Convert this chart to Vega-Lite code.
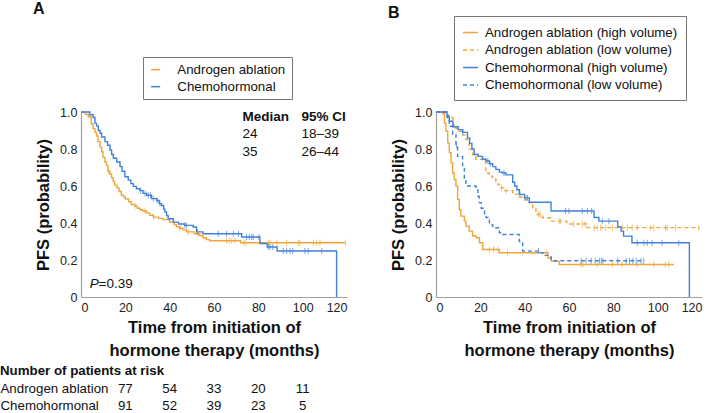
{
  "$schema": "https://vega.github.io/schema/vega-lite/v6.json",
  "background": "white",
  "padding": {"left": 0, "top": 0, "right": 0, "bottom": 0},
  "config": {
    "font": "Liberation Sans",
    "view": {"stroke": null},
    "axis": {"grid": false, "domainColor": "#a0a0a0", "domainWidth": 1.2, "ticks": false, "labelColor": "#222", "labelFontSize": 12.5, "labelPadding": 4, "titleFontSize": 16.5, "titleFontWeight": "bold", "titleColor": "#111"},
    "title": {"fontSize": 16, "fontWeight": "bold", "anchor": "start", "frame": "group", "color": "#111"},
    "text": {"font": "Liberation Sans", "color": "#111"}
  },
  "datasets": {
    "curvesA": [
      {"group": "Androgen ablation", "t": 0, "s": 1}, {"group": "Androgen ablation", "t": 2, "s": 0.987}, {"group": "Androgen ablation", "t": 3.3, "s": 0.974}, {"group": "Androgen ablation", "t": 4.6, "s": 0.935}, {"group": "Androgen ablation", "t": 5.5, "s": 0.91}, {"group": "Androgen ablation", "t": 6.3, "s": 0.89}, {"group": "Androgen ablation", "t": 7, "s": 0.87}, {"group": "Androgen ablation", "t": 7.7, "s": 0.84}, {"group": "Androgen ablation", "t": 8.6, "s": 0.81}, {"group": "Androgen ablation", "t": 9.3, "s": 0.785}, {"group": "Androgen ablation", "t": 9.9, "s": 0.755}, {"group": "Androgen ablation", "t": 10.8, "s": 0.73}, {"group": "Androgen ablation", "t": 11.5, "s": 0.71}, {"group": "Androgen ablation", "t": 12.2, "s": 0.68}, {"group": "Androgen ablation", "t": 13, "s": 0.665}, {"group": "Androgen ablation", "t": 13.8, "s": 0.645}, {"group": "Androgen ablation", "t": 14.5, "s": 0.625}, {"group": "Androgen ablation", "t": 15.2, "s": 0.605}, {"group": "Androgen ablation", "t": 16.2, "s": 0.59}, {"group": "Androgen ablation", "t": 17.2, "s": 0.57}, {"group": "Androgen ablation", "t": 18.2, "s": 0.55}, {"group": "Androgen ablation", "t": 19.2, "s": 0.54}, {"group": "Androgen ablation", "t": 20, "s": 0.53}, {"group": "Androgen ablation", "t": 21.5, "s": 0.515}, {"group": "Androgen ablation", "t": 22.7, "s": 0.5}, {"group": "Androgen ablation", "t": 24.3, "s": 0.49}, {"group": "Androgen ablation", "t": 25.5, "s": 0.48}, {"group": "Androgen ablation", "t": 26.6, "s": 0.472}, {"group": "Androgen ablation", "t": 27.8, "s": 0.465}, {"group": "Androgen ablation", "t": 29.6, "s": 0.455}, {"group": "Androgen ablation", "t": 31, "s": 0.442}, {"group": "Androgen ablation", "t": 32.6, "s": 0.432}, {"group": "Androgen ablation", "t": 35, "s": 0.425}, {"group": "Androgen ablation", "t": 37, "s": 0.418}, {"group": "Androgen ablation", "t": 40, "s": 0.405}, {"group": "Androgen ablation", "t": 42, "s": 0.392}, {"group": "Androgen ablation", "t": 43, "s": 0.38}, {"group": "Androgen ablation", "t": 44.5, "s": 0.372}, {"group": "Androgen ablation", "t": 46, "s": 0.363}, {"group": "Androgen ablation", "t": 47.6, "s": 0.352}, {"group": "Androgen ablation", "t": 51, "s": 0.342}, {"group": "Androgen ablation", "t": 53.6, "s": 0.332}, {"group": "Androgen ablation", "t": 55, "s": 0.32}, {"group": "Androgen ablation", "t": 56.6, "s": 0.31}, {"group": "Androgen ablation", "t": 58, "s": 0.304}, {"group": "Androgen ablation", "t": 72, "s": 0.293}, {"group": "Androgen ablation", "t": 119, "s": 0.293},
      {"group": "Chemohormonal", "t": 0, "s": 1}, {"group": "Chemohormonal", "t": 4, "s": 0.985}, {"group": "Chemohormonal", "t": 5.5, "s": 0.97}, {"group": "Chemohormonal", "t": 6.3, "s": 0.94}, {"group": "Chemohormonal", "t": 7, "s": 0.925}, {"group": "Chemohormonal", "t": 7.8, "s": 0.9}, {"group": "Chemohormonal", "t": 8.6, "s": 0.885}, {"group": "Chemohormonal", "t": 9.3, "s": 0.865}, {"group": "Chemohormonal", "t": 10.8, "s": 0.84}, {"group": "Chemohormonal", "t": 12, "s": 0.82}, {"group": "Chemohormonal", "t": 13.1, "s": 0.795}, {"group": "Chemohormonal", "t": 13.8, "s": 0.77}, {"group": "Chemohormonal", "t": 14.6, "s": 0.75}, {"group": "Chemohormonal", "t": 16.1, "s": 0.73}, {"group": "Chemohormonal", "t": 17.6, "s": 0.705}, {"group": "Chemohormonal", "t": 18.5, "s": 0.68}, {"group": "Chemohormonal", "t": 19.8, "s": 0.65}, {"group": "Chemohormonal", "t": 21.3, "s": 0.632}, {"group": "Chemohormonal", "t": 22.5, "s": 0.613}, {"group": "Chemohormonal", "t": 23.6, "s": 0.598}, {"group": "Chemohormonal", "t": 25, "s": 0.585}, {"group": "Chemohormonal", "t": 26.6, "s": 0.575}, {"group": "Chemohormonal", "t": 28, "s": 0.56}, {"group": "Chemohormonal", "t": 29.6, "s": 0.55}, {"group": "Chemohormonal", "t": 31.8, "s": 0.532}, {"group": "Chemohormonal", "t": 34.1, "s": 0.522}, {"group": "Chemohormonal", "t": 35.3, "s": 0.505}, {"group": "Chemohormonal", "t": 36.3, "s": 0.495}, {"group": "Chemohormonal", "t": 37.3, "s": 0.475}, {"group": "Chemohormonal", "t": 37.8, "s": 0.46}, {"group": "Chemohormonal", "t": 38.6, "s": 0.44}, {"group": "Chemohormonal", "t": 39.3, "s": 0.423}, {"group": "Chemohormonal", "t": 41.6, "s": 0.405}, {"group": "Chemohormonal", "t": 44, "s": 0.395}, {"group": "Chemohormonal", "t": 46.8, "s": 0.387}, {"group": "Chemohormonal", "t": 50.6, "s": 0.378}, {"group": "Chemohormonal", "t": 52.1, "s": 0.352}, {"group": "Chemohormonal", "t": 55, "s": 0.342}, {"group": "Chemohormonal", "t": 72.5, "s": 0.324}, {"group": "Chemohormonal", "t": 80.7, "s": 0.289}, {"group": "Chemohormonal", "t": 84, "s": 0.27}, {"group": "Chemohormonal", "t": 88.5, "s": 0.249}, {"group": "Chemohormonal", "t": 115.3, "s": 0}
    ],
    "censA": [
      {"group": "Androgen ablation", "t": 12.5, "s": 0.68}, {"group": "Androgen ablation", "t": 24.8, "s": 0.49}, {"group": "Androgen ablation", "t": 28.9, "s": 0.465}, {"group": "Androgen ablation", "t": 32.8, "s": 0.432}, {"group": "Androgen ablation", "t": 44.7, "s": 0.372}, {"group": "Androgen ablation", "t": 48.4, "s": 0.352}, {"group": "Androgen ablation", "t": 52.9, "s": 0.342}, {"group": "Androgen ablation", "t": 65.7, "s": 0.304}, {"group": "Androgen ablation", "t": 66.9, "s": 0.304}, {"group": "Androgen ablation", "t": 68, "s": 0.304}, {"group": "Androgen ablation", "t": 69.5, "s": 0.304}, {"group": "Androgen ablation", "t": 73.5, "s": 0.293}, {"group": "Androgen ablation", "t": 74.4, "s": 0.293}, {"group": "Androgen ablation", "t": 84.5, "s": 0.293}, {"group": "Androgen ablation", "t": 85.3, "s": 0.293}, {"group": "Androgen ablation", "t": 88.3, "s": 0.293}, {"group": "Androgen ablation", "t": 92.8, "s": 0.293}, {"group": "Androgen ablation", "t": 98, "s": 0.293}, {"group": "Androgen ablation", "t": 98.7, "s": 0.293}, {"group": "Androgen ablation", "t": 104.8, "s": 0.293}, {"group": "Androgen ablation", "t": 106.3, "s": 0.293}, {"group": "Androgen ablation", "t": 107.8, "s": 0.293}, {"group": "Androgen ablation", "t": 119.3, "s": 0.293},
      {"group": "Chemohormonal", "t": 26.9, "s": 0.575}, {"group": "Chemohormonal", "t": 28.9, "s": 0.56}, {"group": "Chemohormonal", "t": 30.4, "s": 0.55}, {"group": "Chemohormonal", "t": 31.4, "s": 0.55}, {"group": "Chemohormonal", "t": 32.6, "s": 0.532}, {"group": "Chemohormonal", "t": 34.4, "s": 0.522}, {"group": "Chemohormonal", "t": 35.6, "s": 0.505}, {"group": "Chemohormonal", "t": 46.9, "s": 0.387}, {"group": "Chemohormonal", "t": 47.6, "s": 0.387}, {"group": "Chemohormonal", "t": 52.5, "s": 0.352}, {"group": "Chemohormonal", "t": 61.9, "s": 0.342}, {"group": "Chemohormonal", "t": 65.7, "s": 0.342}, {"group": "Chemohormonal", "t": 68.7, "s": 0.342}, {"group": "Chemohormonal", "t": 71, "s": 0.342}, {"group": "Chemohormonal", "t": 74.7, "s": 0.324}, {"group": "Chemohormonal", "t": 75.9, "s": 0.324}, {"group": "Chemohormonal", "t": 77, "s": 0.324}, {"group": "Chemohormonal", "t": 77.7, "s": 0.324}, {"group": "Chemohormonal", "t": 80.3, "s": 0.324}, {"group": "Chemohormonal", "t": 84.5, "s": 0.27}, {"group": "Chemohormonal", "t": 85.3, "s": 0.27}, {"group": "Chemohormonal", "t": 86.5, "s": 0.27}, {"group": "Chemohormonal", "t": 91.3, "s": 0.249}, {"group": "Chemohormonal", "t": 92.8, "s": 0.249}, {"group": "Chemohormonal", "t": 94.3, "s": 0.249}, {"group": "Chemohormonal", "t": 95.5, "s": 0.249}, {"group": "Chemohormonal", "t": 101, "s": 0.249}, {"group": "Chemohormonal", "t": 102.5, "s": 0.249}, {"group": "Chemohormonal", "t": 108.6, "s": 0.249}
    ],
    "notesHead": [
      {"label": "Median", "t": 72.9, "s": 0.973}, {"label": "95% CI", "t": 99.5, "s": 0.973}
    ],
    "notesBody": [
      {"label": "24", "t": 72.9, "s": 0.883}, {"label": "18–39", "t": 99.5, "s": 0.883}, {"label": "35", "t": 72.9, "s": 0.786}, {"label": "26–44", "t": 99.5, "s": 0.786}
    ],
    "pItalic": [{"label": "P", "t": 4, "s": 0.069}],
    "pValue": [{"label": "=0.39", "t": 7.9, "s": 0.069}],
    "risk": [
      {"group": "Androgen ablation", "month": 20, "n": 77}, {"group": "Androgen ablation", "month": 40, "n": 54}, {"group": "Androgen ablation", "month": 60, "n": 33}, {"group": "Androgen ablation", "month": 80, "n": 20}, {"group": "Androgen ablation", "month": 100, "n": 11},
      {"group": "Chemohormonal", "month": 20, "n": 91}, {"group": "Chemohormonal", "month": 40, "n": 52}, {"group": "Chemohormonal", "month": 60, "n": 39}, {"group": "Chemohormonal", "month": 80, "n": 23}, {"group": "Chemohormonal", "month": 100, "n": 5}
    ],
    "curvesB": [
      {"series": "Androgen ablation (high volume)", "t": 0, "s": 1}, {"series": "Androgen ablation (high volume)", "t": 3, "s": 0.99}, {"series": "Androgen ablation (high volume)", "t": 3.8, "s": 0.94}, {"series": "Androgen ablation (high volume)", "t": 4.5, "s": 0.896}, {"series": "Androgen ablation (high volume)", "t": 5.3, "s": 0.833}, {"series": "Androgen ablation (high volume)", "t": 6, "s": 0.78}, {"series": "Androgen ablation (high volume)", "t": 6.8, "s": 0.725}, {"series": "Androgen ablation (high volume)", "t": 7.5, "s": 0.67}, {"series": "Androgen ablation (high volume)", "t": 8.2, "s": 0.635}, {"series": "Androgen ablation (high volume)", "t": 9, "s": 0.6}, {"series": "Androgen ablation (high volume)", "t": 9.75, "s": 0.527}, {"series": "Androgen ablation (high volume)", "t": 10.5, "s": 0.473}, {"series": "Androgen ablation (high volume)", "t": 11.2, "s": 0.437}, {"series": "Androgen ablation (high volume)", "t": 12.8, "s": 0.41}, {"series": "Androgen ablation (high volume)", "t": 13.5, "s": 0.383}, {"series": "Androgen ablation (high volume)", "t": 15, "s": 0.356}, {"series": "Androgen ablation (high volume)", "t": 16.5, "s": 0.33}, {"series": "Androgen ablation (high volume)", "t": 18.2, "s": 0.32}, {"series": "Androgen ablation (high volume)", "t": 19.6, "s": 0.293}, {"series": "Androgen ablation (high volume)", "t": 21.1, "s": 0.257}, {"series": "Androgen ablation (high volume)", "t": 28.6, "s": 0.239}, {"series": "Androgen ablation (high volume)", "t": 50.5, "s": 0.212}, {"series": "Androgen ablation (high volume)", "t": 52, "s": 0.194}, {"series": "Androgen ablation (high volume)", "t": 55.6, "s": 0.176}, {"series": "Androgen ablation (high volume)", "t": 107.3, "s": 0.176},
      {"series": "Androgen ablation (low volume)", "t": 0, "s": 1}, {"series": "Androgen ablation (low volume)", "t": 4, "s": 0.985}, {"series": "Androgen ablation (low volume)", "t": 5.4, "s": 0.97}, {"series": "Androgen ablation (low volume)", "t": 7.6, "s": 0.93}, {"series": "Androgen ablation (low volume)", "t": 9, "s": 0.91}, {"series": "Androgen ablation (low volume)", "t": 10.5, "s": 0.896}, {"series": "Androgen ablation (low volume)", "t": 12, "s": 0.875}, {"series": "Androgen ablation (low volume)", "t": 13.5, "s": 0.851}, {"series": "Androgen ablation (low volume)", "t": 15, "s": 0.8}, {"series": "Androgen ablation (low volume)", "t": 16.5, "s": 0.77}, {"series": "Androgen ablation (low volume)", "t": 18, "s": 0.745}, {"series": "Androgen ablation (low volume)", "t": 21, "s": 0.734}, {"series": "Androgen ablation (low volume)", "t": 22.5, "s": 0.67}, {"series": "Androgen ablation (low volume)", "t": 24, "s": 0.653}, {"series": "Androgen ablation (low volume)", "t": 25.5, "s": 0.644}, {"series": "Androgen ablation (low volume)", "t": 27, "s": 0.61}, {"series": "Androgen ablation (low volume)", "t": 28.5, "s": 0.59}, {"series": "Androgen ablation (low volume)", "t": 31, "s": 0.575}, {"series": "Androgen ablation (low volume)", "t": 34.6, "s": 0.556}, {"series": "Androgen ablation (low volume)", "t": 37.6, "s": 0.54}, {"series": "Androgen ablation (low volume)", "t": 40, "s": 0.525}, {"series": "Androgen ablation (low volume)", "t": 42.1, "s": 0.509}, {"series": "Androgen ablation (low volume)", "t": 43.6, "s": 0.482}, {"series": "Androgen ablation (low volume)", "t": 45.1, "s": 0.446}, {"series": "Androgen ablation (low volume)", "t": 48.1, "s": 0.428}, {"series": "Androgen ablation (low volume)", "t": 52, "s": 0.41}, {"series": "Androgen ablation (low volume)", "t": 59, "s": 0.395}, {"series": "Androgen ablation (low volume)", "t": 68, "s": 0.375}, {"series": "Androgen ablation (low volume)", "t": 119, "s": 0.375},
      {"series": "Chemohormonal (high volume)", "t": 0, "s": 1}, {"series": "Chemohormonal (high volume)", "t": 5, "s": 0.98}, {"series": "Chemohormonal (high volume)", "t": 6, "s": 0.95}, {"series": "Chemohormonal (high volume)", "t": 7.6, "s": 0.92}, {"series": "Chemohormonal (high volume)", "t": 10, "s": 0.905}, {"series": "Chemohormonal (high volume)", "t": 12, "s": 0.89}, {"series": "Chemohormonal (high volume)", "t": 14.2, "s": 0.86}, {"series": "Chemohormonal (high volume)", "t": 15.2, "s": 0.83}, {"series": "Chemohormonal (high volume)", "t": 16.2, "s": 0.8}, {"series": "Chemohormonal (high volume)", "t": 17.2, "s": 0.77}, {"series": "Chemohormonal (high volume)", "t": 19, "s": 0.76}, {"series": "Chemohormonal (high volume)", "t": 21, "s": 0.745}, {"series": "Chemohormonal (high volume)", "t": 22.6, "s": 0.735}, {"series": "Chemohormonal (high volume)", "t": 24.1, "s": 0.72}, {"series": "Chemohormonal (high volume)", "t": 25.6, "s": 0.705}, {"series": "Chemohormonal (high volume)", "t": 27, "s": 0.69}, {"series": "Chemohormonal (high volume)", "t": 28.6, "s": 0.675}, {"series": "Chemohormonal (high volume)", "t": 30, "s": 0.67}, {"series": "Chemohormonal (high volume)", "t": 31.6, "s": 0.66}, {"series": "Chemohormonal (high volume)", "t": 34.6, "s": 0.62}, {"series": "Chemohormonal (high volume)", "t": 35.5, "s": 0.6}, {"series": "Chemohormonal (high volume)", "t": 36.5, "s": 0.58}, {"series": "Chemohormonal (high volume)", "t": 37.6, "s": 0.555}, {"series": "Chemohormonal (high volume)", "t": 39.9, "s": 0.536}, {"series": "Chemohormonal (high volume)", "t": 42.1, "s": 0.512}, {"series": "Chemohormonal (high volume)", "t": 51.9, "s": 0.465}, {"series": "Chemohormonal (high volume)", "t": 71.3, "s": 0.43}, {"series": "Chemohormonal (high volume)", "t": 73.5, "s": 0.41}, {"series": "Chemohormonal (high volume)", "t": 82, "s": 0.378}, {"series": "Chemohormonal (high volume)", "t": 83.5, "s": 0.356}, {"series": "Chemohormonal (high volume)", "t": 84.6, "s": 0.329}, {"series": "Chemohormonal (high volume)", "t": 88.4, "s": 0.293}, {"series": "Chemohormonal (high volume)", "t": 114.3, "s": 0},
      {"series": "Chemohormonal (low volume)", "t": 0, "s": 1}, {"series": "Chemohormonal (low volume)", "t": 5, "s": 0.97}, {"series": "Chemohormonal (low volume)", "t": 6, "s": 0.923}, {"series": "Chemohormonal (low volume)", "t": 7.5, "s": 0.88}, {"series": "Chemohormonal (low volume)", "t": 9, "s": 0.82}, {"series": "Chemohormonal (low volume)", "t": 9.75, "s": 0.76}, {"series": "Chemohormonal (low volume)", "t": 12, "s": 0.71}, {"series": "Chemohormonal (low volume)", "t": 12.8, "s": 0.64}, {"series": "Chemohormonal (low volume)", "t": 13.5, "s": 0.6}, {"series": "Chemohormonal (low volume)", "t": 18.1, "s": 0.586}, {"series": "Chemohormonal (low volume)", "t": 18.9, "s": 0.545}, {"series": "Chemohormonal (low volume)", "t": 19.5, "s": 0.51}, {"series": "Chemohormonal (low volume)", "t": 20.4, "s": 0.48}, {"series": "Chemohormonal (low volume)", "t": 21.9, "s": 0.446}, {"series": "Chemohormonal (low volume)", "t": 22.6, "s": 0.43}, {"series": "Chemohormonal (low volume)", "t": 24.1, "s": 0.39}, {"series": "Chemohormonal (low volume)", "t": 25.6, "s": 0.374}, {"series": "Chemohormonal (low volume)", "t": 28.6, "s": 0.347}, {"series": "Chemohormonal (low volume)", "t": 30.1, "s": 0.338}, {"series": "Chemohormonal (low volume)", "t": 37.6, "s": 0.3}, {"series": "Chemohormonal (low volume)", "t": 39.1, "s": 0.248}, {"series": "Chemohormonal (low volume)", "t": 47, "s": 0.239}, {"series": "Chemohormonal (low volume)", "t": 49, "s": 0.225}, {"series": "Chemohormonal (low volume)", "t": 51.9, "s": 0.196}, {"series": "Chemohormonal (low volume)", "t": 93.7, "s": 0.196}
    ],
    "censB": [
      {"series": "Androgen ablation (high volume)", "t": 24.1, "s": 0.257}, {"series": "Androgen ablation (high volume)", "t": 26, "s": 0.257}, {"series": "Androgen ablation (high volume)", "t": 28, "s": 0.257}, {"series": "Androgen ablation (high volume)", "t": 32.3, "s": 0.239}, {"series": "Androgen ablation (high volume)", "t": 50, "s": 0.239}, {"series": "Androgen ablation (high volume)", "t": 65.3, "s": 0.176}, {"series": "Androgen ablation (high volume)", "t": 66.3, "s": 0.176}, {"series": "Androgen ablation (high volume)", "t": 72.8, "s": 0.176}, {"series": "Androgen ablation (high volume)", "t": 79.6, "s": 0.176}, {"series": "Androgen ablation (high volume)", "t": 84, "s": 0.176}, {"series": "Androgen ablation (high volume)", "t": 90.8, "s": 0.176}, {"series": "Androgen ablation (high volume)", "t": 98.3, "s": 0.176}, {"series": "Androgen ablation (high volume)", "t": 103.5, "s": 0.176}, {"series": "Androgen ablation (high volume)", "t": 105, "s": 0.176},
      {"series": "Androgen ablation (low volume)", "t": 29.6, "s": 0.59}, {"series": "Androgen ablation (low volume)", "t": 31.5, "s": 0.575}, {"series": "Androgen ablation (low volume)", "t": 46.2, "s": 0.446}, {"series": "Androgen ablation (low volume)", "t": 47, "s": 0.446}, {"series": "Androgen ablation (low volume)", "t": 55.6, "s": 0.41}, {"series": "Androgen ablation (low volume)", "t": 56.3, "s": 0.41}, {"series": "Androgen ablation (low volume)", "t": 62, "s": 0.395}, {"series": "Androgen ablation (low volume)", "t": 66, "s": 0.395}, {"series": "Androgen ablation (low volume)", "t": 67.3, "s": 0.395}, {"series": "Androgen ablation (low volume)", "t": 71.3, "s": 0.375}, {"series": "Androgen ablation (low volume)", "t": 72.8, "s": 0.375}, {"series": "Androgen ablation (low volume)", "t": 74.3, "s": 0.375}, {"series": "Androgen ablation (low volume)", "t": 76.6, "s": 0.375}, {"series": "Androgen ablation (low volume)", "t": 79.6, "s": 0.375}, {"series": "Androgen ablation (low volume)", "t": 84, "s": 0.375}, {"series": "Androgen ablation (low volume)", "t": 86.3, "s": 0.375}, {"series": "Androgen ablation (low volume)", "t": 88.5, "s": 0.375}, {"series": "Androgen ablation (low volume)", "t": 90.8, "s": 0.375}, {"series": "Androgen ablation (low volume)", "t": 96.8, "s": 0.375}, {"series": "Androgen ablation (low volume)", "t": 98.3, "s": 0.375}, {"series": "Androgen ablation (low volume)", "t": 103.5, "s": 0.375}, {"series": "Androgen ablation (low volume)", "t": 104.3, "s": 0.375}, {"series": "Androgen ablation (low volume)", "t": 108, "s": 0.375}, {"series": "Androgen ablation (low volume)", "t": 118.5, "s": 0.375},
      {"series": "Chemohormonal (high volume)", "t": 12.1, "s": 0.89}, {"series": "Chemohormonal (high volume)", "t": 23.4, "s": 0.735}, {"series": "Chemohormonal (high volume)", "t": 24.4, "s": 0.72}, {"series": "Chemohormonal (high volume)", "t": 30.7, "s": 0.67}, {"series": "Chemohormonal (high volume)", "t": 37.9, "s": 0.555}, {"series": "Chemohormonal (high volume)", "t": 40.6, "s": 0.536}, {"series": "Chemohormonal (high volume)", "t": 41.3, "s": 0.536}, {"series": "Chemohormonal (high volume)", "t": 58.4, "s": 0.465}, {"series": "Chemohormonal (high volume)", "t": 60, "s": 0.465}, {"series": "Chemohormonal (high volume)", "t": 66, "s": 0.465}, {"series": "Chemohormonal (high volume)", "t": 68.3, "s": 0.465}, {"series": "Chemohormonal (high volume)", "t": 70.2, "s": 0.465}, {"series": "Chemohormonal (high volume)", "t": 75, "s": 0.41}, {"series": "Chemohormonal (high volume)", "t": 78, "s": 0.41}, {"series": "Chemohormonal (high volume)", "t": 90.8, "s": 0.293}, {"series": "Chemohormonal (high volume)", "t": 93.8, "s": 0.293}, {"series": "Chemohormonal (high volume)", "t": 95.3, "s": 0.293}, {"series": "Chemohormonal (high volume)", "t": 97.5, "s": 0.293}, {"series": "Chemohormonal (high volume)", "t": 102, "s": 0.293}, {"series": "Chemohormonal (high volume)", "t": 109.5, "s": 0.293},
      {"series": "Chemohormonal (low volume)", "t": 9.3, "s": 0.82}, {"series": "Chemohormonal (low volume)", "t": 46.2, "s": 0.248}, {"series": "Chemohormonal (low volume)", "t": 65.5, "s": 0.196}, {"series": "Chemohormonal (low volume)", "t": 67.7, "s": 0.196}, {"series": "Chemohormonal (low volume)", "t": 70, "s": 0.196}, {"series": "Chemohormonal (low volume)", "t": 71.8, "s": 0.196}, {"series": "Chemohormonal (low volume)", "t": 73.8, "s": 0.196}, {"series": "Chemohormonal (low volume)", "t": 74.6, "s": 0.196}, {"series": "Chemohormonal (low volume)", "t": 75.3, "s": 0.196}, {"series": "Chemohormonal (low volume)", "t": 82, "s": 0.196}, {"series": "Chemohormonal (low volume)", "t": 85.8, "s": 0.196}, {"series": "Chemohormonal (low volume)", "t": 87.3, "s": 0.196}, {"series": "Chemohormonal (low volume)", "t": 88.8, "s": 0.196}, {"series": "Chemohormonal (low volume)", "t": 90.3, "s": 0.196}, {"series": "Chemohormonal (low volume)", "t": 92.5, "s": 0.196}, {"series": "Chemohormonal (low volume)", "t": 93.7, "s": 0.196}
    ]
  },
  "bounds": "flush",
  "align": "all",
  "columns": 2,
  "spacing": {"column": 89, "row": 83},
  "resolve": {"scale": {"color": "independent", "strokeDash": "independent"}, "legend": {"color": "independent", "strokeDash": "independent"}},
  "concat": [
    {
      "width": 266,
      "height": 185,
      "title": {"text": "A", "dx": -48, "offset": 40},
      "encoding": {
        "x": {"field": "t", "type": "quantitative", "scale": {"domain": [0, 120]}, "axis": {"values": [0, 20, 40, 60, 80, 100, 120], "title": ["Time from initiation of", "hormone therapy (months)"], "titleLineHeight": 23, "titlePadding": 6}},
        "y": {"field": "s", "type": "quantitative", "scale": {"domain": [0, 1]}, "axis": {"values": [0, 0.2, 0.4, 0.6, 0.8, 1], "labelExpr": "datum.value == 0 ? '0' : format(datum.value, '.1f')", "title": "PFS (probability)", "titlePadding": 8}}
      },
      "layer": [
        {
          "data": {"name": "curvesA"},
          "mark": {"type": "line", "interpolate": "step-after", "strokeWidth": 1.4},
          "encoding": {
            "color": {"field": "group", "type": "nominal", "scale": {"domain": ["Androgen ablation", "Chemohormonal"], "range": ["#F0A53A", "#3F82DB"]},
              "legend": {"orient": "none", "legendX": 62, "legendY": -55, "title": null, "strokeColor": "#777", "fillColor": "white", "padding": 6, "symbolType": "stroke", "symbolSize": 81, "symbolStrokeWidth": 1.5, "labelFontSize": 13.3, "labelOffset": 15, "labelColor": "#111", "labelLimit": 300, "rowPadding": 3}}
          }
        },
        {
          "data": {"name": "censA"},
          "mark": {"type": "tick", "orient": "vertical", "size": 6, "thickness": 1},
          "encoding": {
            "color": {"field": "group", "type": "nominal", "legend": null}
          }
        },
        {
          "data": {"name": "notesHead"},
          "mark": {"type": "text", "align": "left", "baseline": "middle", "fontSize": 13.5, "fontWeight": "bold"},
          "encoding": {"text": {"field": "label"}}
        },
        {
          "data": {"name": "notesBody"},
          "mark": {"type": "text", "align": "left", "baseline": "middle", "fontSize": 13.5},
          "encoding": {"text": {"field": "label"}}
        },
        {
          "data": {"name": "pItalic"},
          "mark": {"type": "text", "align": "left", "baseline": "middle", "fontSize": 13.5, "fontStyle": "italic"},
          "encoding": {"text": {"field": "label"}}
        },
        {
          "data": {"name": "pValue"},
          "mark": {"type": "text", "align": "left", "baseline": "middle", "fontSize": 13.5},
          "encoding": {"text": {"field": "label"}}
        }
      ]
    },
    {
      "width": 266,
      "height": 185,
      "title": {"text": "B", "dx": -48, "offset": -5},
      "encoding": {
        "x": {"field": "t", "type": "quantitative", "scale": {"domain": [0, 120]}, "axis": {"values": [0, 20, 40, 60, 80, 100, 120], "title": ["Time from initiation of", "hormone therapy (months)"], "titleLineHeight": 23, "titlePadding": 6}},
        "y": {"field": "s", "type": "quantitative", "scale": {"domain": [0, 1]}, "axis": {"values": [0, 0.2, 0.4, 0.6, 0.8, 1], "labelExpr": "datum.value == 0 ? '0' : format(datum.value, '.1f')", "title": "PFS (probability)", "titlePadding": 8}}
      },
      "layer": [
        {
          "data": {"name": "curvesB"},
          "mark": {"type": "line", "interpolate": "step-after", "strokeWidth": 1.4},
          "encoding": {
            "color": {"field": "series", "type": "nominal", "scale": {"domain": ["Androgen ablation (high volume)", "Androgen ablation (low volume)", "Chemohormonal (high volume)", "Chemohormonal (low volume)"], "range": ["#F0A53A", "#F0A53A", "#3F82DB", "#3F82DB"]},
              "legend": {"orient": "none", "legendX": 18, "legendY": -96, "title": null, "strokeColor": "#777", "fillColor": "white", "padding": 8, "symbolType": "stroke", "symbolSize": 225, "symbolStrokeWidth": 1.5, "labelFontSize": 13.3, "labelOffset": 6, "labelColor": "#111", "labelLimit": 300, "rowPadding": 2.5}},
            "strokeDash": {"field": "series", "type": "nominal", "scale": {"domain": ["Androgen ablation (high volume)", "Androgen ablation (low volume)", "Chemohormonal (high volume)", "Chemohormonal (low volume)"], "range": [[1, 0], [4, 3], [1, 0], [4, 3]]},
              "legend": {"orient": "none", "legendX": 18, "legendY": -96, "title": null, "strokeColor": "#777", "fillColor": "white", "padding": 8, "symbolType": "stroke", "symbolSize": 225, "symbolStrokeWidth": 1.5, "labelFontSize": 13.3, "labelOffset": 6, "labelColor": "#111", "labelLimit": 300, "rowPadding": 2.5}}
          }
        },
        {
          "data": {"name": "censB"},
          "mark": {"type": "tick", "orient": "vertical", "size": 6, "thickness": 1},
          "encoding": {
            "color": {"field": "series", "type": "nominal", "legend": null}
          }
        }
      ]
    },
    {
      "width": 266,
      "height": 34,
      "title": {"text": "Number of patients at risk", "fontSize": 13.3, "dx": -81, "offset": 3},
      "data": {"name": "risk"},
      "mark": {"type": "text", "align": "center", "baseline": "middle", "fontSize": 13.3},
      "encoding": {
        "x": {"field": "month", "type": "quantitative", "scale": {"domain": [0, 120]}, "axis": null},
        "y": {"field": "group", "type": "nominal", "sort": ["Androgen ablation", "Chemohormonal"], "axis": {"title": null, "domain": false, "ticks": false, "labelAlign": "left", "labelPadding": 81, "labelFontSize": 13.3, "labelColor": "#111"}},
        "text": {"field": "n", "type": "quantitative"}
      }
    }
  ]
}
